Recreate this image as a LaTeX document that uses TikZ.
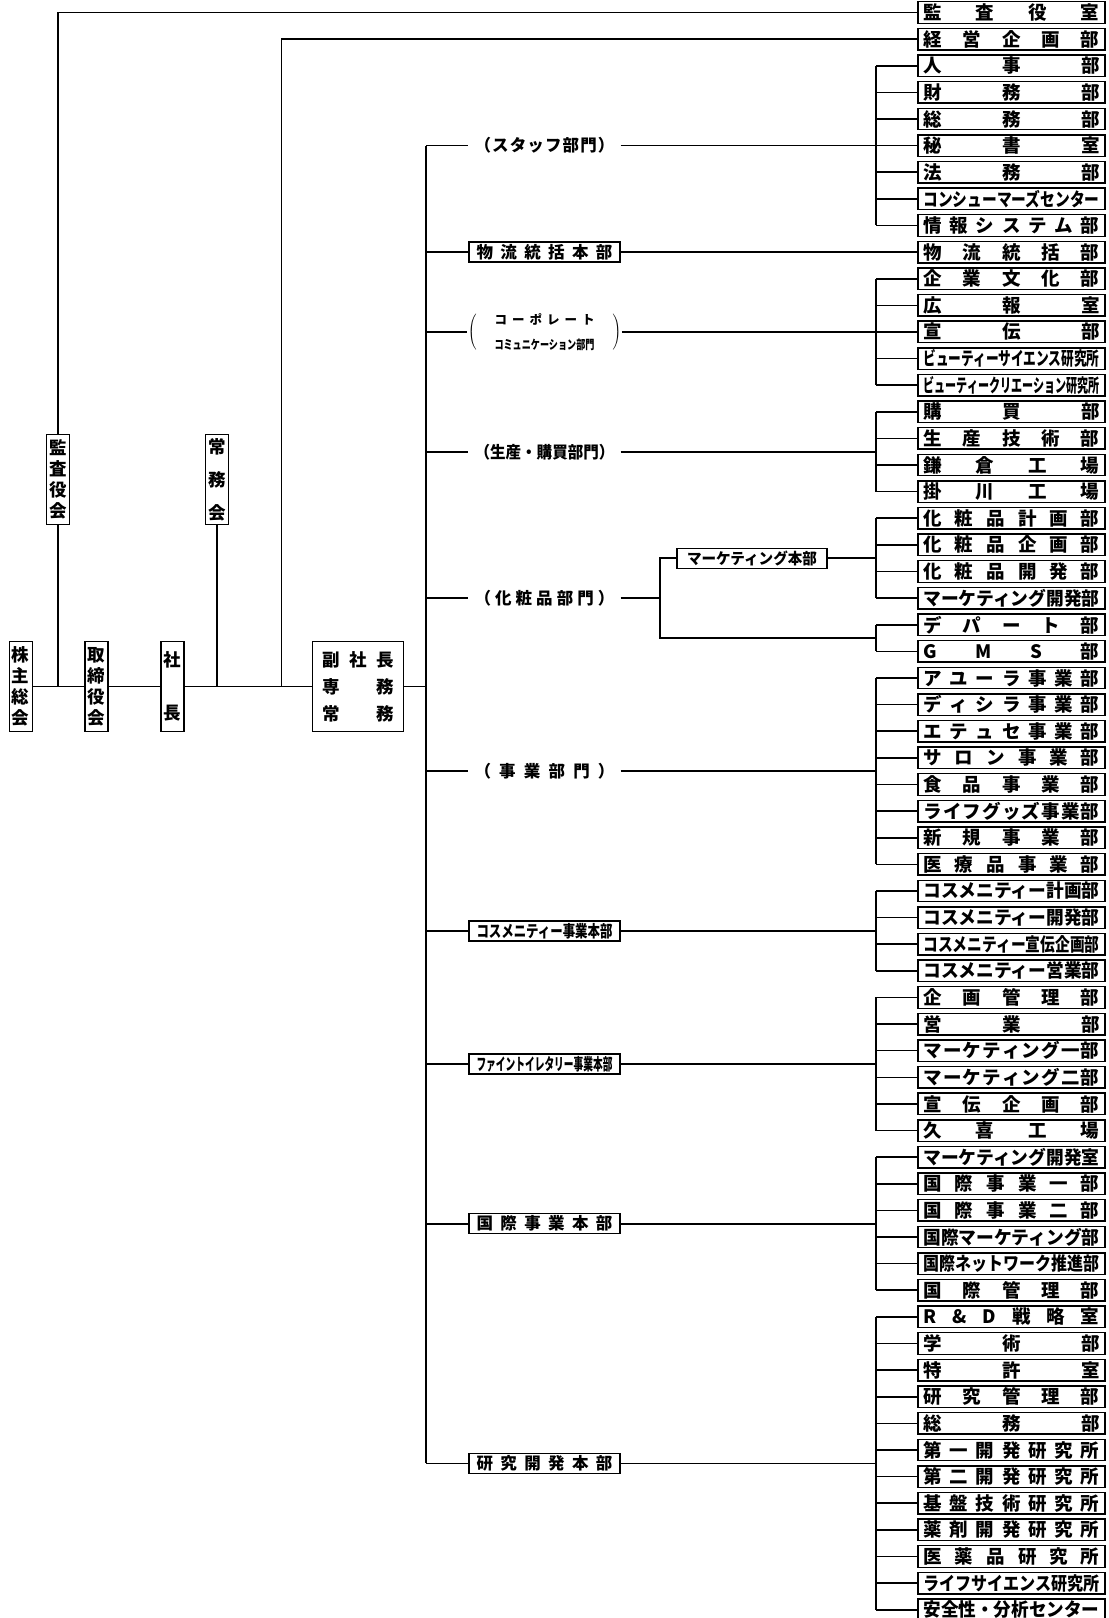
\documentclass[tikz,border=0pt]{standalone}
\usepackage{fontspec}
\setmainfont{Noto Sans CJK JP}
\usepackage{graphicx}
\usetikzlibrary{calc}

\newlength\spw
\newsavebox\spbox
\def\sploop#1{\ifx\relax#1\else#1\hfill\expandafter\sploop\fi}
\newcommand\dospread[1]{\leavevmode\sbox\spbox{#1}%
  \ifdim\wd\spbox>\spw\resizebox{\spw}{\height}{#1}%
  \else\hbox to\spw{\sploop#1\relax\unskip}\fi}
\newcommand\spread[1]{\expandafter\dospread\expandafter{#1}}
\newcommand\spreadto[2]{\setlength\spw{#2}\spread{#1}}

\tikzset{
  deptbox/.style={draw, line width=1.4pt, minimum width=187pt, minimum height=21.5pt, inner sep=0pt, font=\fontsize{18.5}{20}\selectfont\bfseries},
  hqbox/.style={draw, line width=1.4pt, minimum width=151pt, minimum height=20pt, inner sep=0pt, font=\fontsize{16.5}{18}\selectfont\bfseries},
  sectlabel/.style={hqbox, draw=none},
  tatebox/.style={draw, line width=1.4pt, minimum width=23pt, minimum height=90pt, inner sep=0pt, align=center, font=\fontsize{17.5}{21}\selectfont\bfseries}
}

\begin{document}
\begin{tikzpicture}[x=1pt, y=-1pt, line width=1.6pt]
    \useasboundingbox (0,0) rectangle (1109,1618);

    % right column
    \foreach \dname [count=\i] in {監査役室,経営企画部,人事部,財務部,総務部,秘書室,法務部,コンシューマーズセンター,情報システム部,物流統括部,企業文化部,広報室,宣伝部,ビューティーサイエンス研究所,ビューティークリエーション研究所,購買部,生産技術部,鎌倉工場,掛川工場,化粧品計画部,化粧品企画部,化粧品開発部,マーケティング開発部,デパート部,GMS部,アユーラ事業部,ディシラ事業部,エテュセ事業部,サロン事業部,食品事業部,ライフグッズ事業部,新規事業部,医療品事業部,コスメニティー計画部,コスメニティー開発部,コスメニティー宣伝企画部,コスメニティー営業部,企画管理部,営業部,マーケティング一部,マーケティング二部,宣伝企画部,久喜工場,マーケティング開発室,国際事業一部,国際事業二部,国際マーケティング部,国際ネットワーク推進部,国際管理部,R\&D戦略室,学術部,特許室,研究管理部,総務部,第一開発研究所,第二開発研究所,基盤技術研究所,薬剤開発研究所,医薬品研究所,ライフサイエンス研究所,安全性・分析センター}
        \node[deptbox] (d\i) at (1011.5, {12.5+(\i-1)*26.62}) {\setlength\spw{176pt}\spread\dname};

    \coordinate (bx) at (876,0);
    \coordinate (lx) at (544.5,0);
    \coordinate (spx) at (426,0);
    \coordinate (kb) at (660,0);
    \coordinate (kj) at (281.6,0);

    \foreach \i in {3,...,9,11,12,...,61}
        \draw (d\i.west) -- (d\i.west -| bx);
    \foreach \a/\b/\g in {3/9/staff, 11/15/corp, 16/19/prod, 20/23/mkt, 24/25/gms, 26/33/biz, 34/37/cosm, 38/43/fine, 44/49/intl, 50/61/rd} {
        \draw (bx |- d\a) -- (bx |- d\b);
        \coordinate (g-\g) at ($(bx |- d\a)!.5!(bx |- d\b)$);
    }

    % divisions
    \node[sectlabel] (staff) at (lx |- g-staff) {\spreadto{（スタッフ部門）}{140pt}};
    \node[hqbox] (logi) at (lx |- d10) {\spreadto{物流統括本部}{136pt}};
    \node[sectlabel] (corp) at (lx |- g-corp) {$\left(\hspace{18pt}\vcenter{\hbox{\fontsize{12.5}{14}\selectfont\spreadto{コーポレート}{100pt}}\vskip 7pt\hbox{\fontsize{12.5}{14}\selectfont\spreadto{コミュニケーション部門}{100pt}}}\hspace{18pt}\right)$};
    \node[sectlabel] (prod) at (lx |- g-prod) {\spreadto{（生産・購買部門）}{140pt}};
    \node[sectlabel] (cosme) at ($(lx |- g-mkt)!.5!(lx |- g-gms)$) {\spreadto{（化粧品部門）}{140pt}};
    \node[hqbox, minimum width=150pt, font=\fontsize{15.5}{18}\selectfont\bfseries] (mkthq) at ($(g-mkt)+(-124,0)$) {\spreadto{マーケティング本部}{130pt}};
    \node[sectlabel] (biz) at (lx |- g-biz) {\spreadto{（事業部門）}{140pt}};
    \node[hqbox] (cosmhq) at (lx |- g-cosm) {\spreadto{コスメニティー事業本部}{136pt}};
    \node[hqbox] (finehq) at (lx |- g-fine) {\spreadto{ファイントイレタリー事業本部}{136pt}};
    \node[hqbox] (intlhq) at (lx |- g-intl) {\spreadto{国際事業本部}{136pt}};
    \node[hqbox] (rdhq) at (lx |- g-rd) {\spreadto{研究開発本部}{136pt}};

    \draw (spx |- staff) -- (spx |- rdhq);
    \foreach \n in {staff, logi, corp, prod, cosme, biz, cosmhq, finehq, intlhq, rdhq}
        \draw (spx |- \n) -- (\n.west);
    \draw (staff.east) -- (g-staff);
    \draw (logi.east) -- (d10.west);
    \draw (corp.east) -- (g-corp);
    \draw (prod.east) -- (g-prod);
    \draw (cosme.east) -- (kb |- cosme);
    \draw (mkthq.west) -- (kb |- mkthq) -- (kb |- g-gms) -- (g-gms);
    \draw (mkthq.east) -- (g-mkt);
    \draw (biz.east) -- (g-biz);
    \draw (cosmhq.east) -- (g-cosm);
    \draw (finehq.east) -- (g-fine);
    \draw (intlhq.east) -- (g-intl);
    \draw (rdhq.east) -- (g-rd);

    % top management
    \node[tatebox] (kabu) at (20.7, 686.5) {株\\主\\総\\会};
    \node[tatebox] (kansa) at (57.8, 479.5) {監\\査\\役\\会};
    \node[tatebox] (tori) at (96.5, 686.5) {取\\締\\役\\会};
    \node[tatebox] (shacho) at (172.3, 686.5) {社\\[32pt]長};
    \node[tatebox] (jomu) at (217, 479.5) {常\\[12pt]務\\[12pt]会};
    \node[draw, line width=1.4pt, minimum width=91pt, minimum height=90pt, inner sep=0pt, align=center, font=\fontsize{17.5}{27}\selectfont\bfseries] (fuku) at (358, 686.5) {\spreadto{副社長}{72pt}\\\spreadto{専務}{72pt}\\\spreadto{常務}{72pt}};

    \draw (kabu.east) -- (tori.west);
    \draw (tori.east) -- (shacho.west);
    \draw (shacho.east) -- (fuku.west);
    \draw (fuku.east) -- (spx |- fuku);
    \draw (kansa.south) -- (kansa |- kabu);
    \draw (kansa.north) |- (d1.west);
    \draw (jomu.south) -- (jomu |- shacho);
    \draw (kj |- fuku) |- (d2.west);
\end{tikzpicture}
\end{document}
